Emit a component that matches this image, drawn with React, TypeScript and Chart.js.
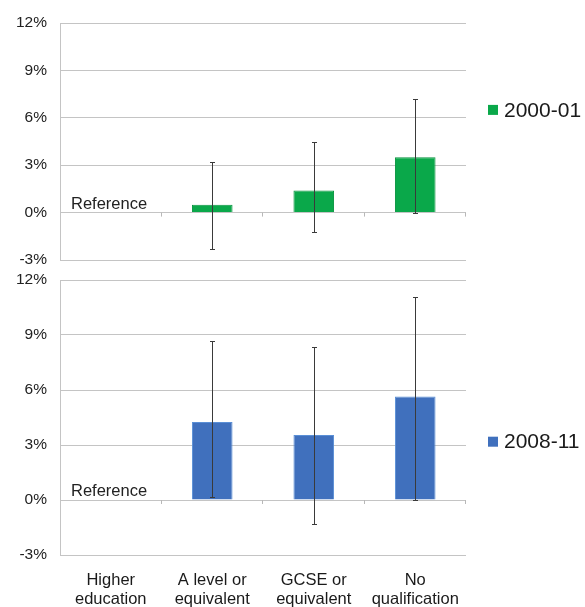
import React, { useEffect, useRef } from "react";
import { Chart, registerables } from "chart.js";

Chart.register(...registerables);

const categories: string[][] = [
  ["Higher", "education"],
  ["A level or", "equivalent"],
  ["GCSE or", "equivalent"],
  ["No", "qualification"],
];

const series2000Label = "2000-01";
const series2000Values = [null, 0.5, 1.4, 3.5];
const series2000Upper = [null, 3.2, 4.45, 7.2];
const series2000Lower = [null, -2.3, -1.25, 0.0];

const series2008Label = "2008-11";
const series2008Values = [null, 4.25, 3.55, 5.65];
const series2008Upper = [null, 8.65, 8.35, 11.1];
const series2008Lower = [null, 0.18, -1.3, 0.0];

const yTicks = [-3, 0, 3, 6, 9, 12];
const referenceLabel = "Reference";

const FONT = "'Liberation Sans', Arial, sans-serif";

const GREEN = "#0aa84a";
const GREEN_BORDER = "#08943f";
const BLUE = "#4070bd";
const BLUE_BORDER = "#5a8fd6";

function makeOverlayPlugin(
  upper: (number | null)[],
  lower: (number | null)[],
  legendLabel: string,
  legendColor: string,
  legendYValue: number
) {
  return {
    id: "overlay",
    afterDatasetsDraw(chart: any) {
      const ctx = chart.ctx;
      const x = chart.scales.x;
      const y = chart.scales.y;
      const area = chart.chartArea;
      ctx.save();
      // zero-line category tick marks
      const y0 = y.getPixelForValue(0);
      ctx.strokeStyle = "#b8b8b8";
      ctx.lineWidth = 1;
      const n = categories.length;
      for (let i = 1; i <= n; i++) {
        const px = Math.round(area.left + ((area.right - area.left) * i) / n) - 0.5;
        ctx.beginPath();
        ctx.moveTo(px, y0);
        ctx.lineTo(px, y0 + 4);
        ctx.stroke();
      }
      // error bars
      ctx.strokeStyle = "#3a3a3a";
      ctx.lineWidth = 1;
      for (let i = 0; i < upper.length; i++) {
        const u = upper[i];
        const l = lower[i];
        if (u == null || l == null) continue;
        const cx = Math.round(x.getPixelForValue(i)) + 0.5;
        const yu = Math.round(y.getPixelForValue(u)) + 0.5;
        const yl = Math.round(y.getPixelForValue(l)) + 0.5;
        ctx.beginPath();
        ctx.moveTo(cx, yu);
        ctx.lineTo(cx, yl);
        ctx.moveTo(cx - 2.5, yu);
        ctx.lineTo(cx + 2.5, yu);
        ctx.moveTo(cx - 2.5, yl);
        ctx.lineTo(cx + 2.5, yl);
        ctx.stroke();
      }
      // reference label
      ctx.fillStyle = "#222";
      ctx.font = `16.5px ${FONT}`;
      ctx.textAlign = "left";
      ctx.textBaseline = "alphabetic";
      ctx.fillText(referenceLabel, area.left + 11, y0 - 4);
      // legend
      const ly = y.getPixelForValue(legendYValue);
      ctx.fillStyle = legendColor;
      ctx.fillRect(area.right + 22, ly - 5, 10, 10);
      ctx.fillStyle = "#1a1a1a";
      ctx.font = `21px ${FONT}`;
      ctx.textBaseline = "middle";
      ctx.fillText(legendLabel, area.right + 38, ly + 1);
      ctx.restore();
    },
  };
}

function buildConfig(
  label: string,
  values: (number | null)[],
  color: string,
  border: string,
  showX: boolean,
  topPad: number,
  xHeight: number,
  plugin: any
): any {
  return {
    type: "bar",
    data: {
      labels: categories,
      datasets: [
        {
          label,
          data: values,
          backgroundColor: color,
          borderColor: border,
          borderWidth: 1,
          barPercentage: 0.4,
          categoryPercentage: 1.0,
        },
      ],
    },
    options: {
      animation: false,
      responsive: false,
      maintainAspectRatio: false,
      devicePixelRatio: 1,
      layout: { padding: { top: topPad, right: 119, left: 0, bottom: 0 } },
      plugins: {
        legend: { display: false },
        tooltip: { enabled: false },
      },
      scales: {
        x: {
          grid: { display: false, drawTicks: false },
          border: { display: false },
          ticks: {
            display: showX,
            color: "#1a1a1a",
            font: { family: FONT, size: 16.5, lineHeight: 1.21 },
            padding: 15,
            maxRotation: 0,
            autoSkip: false,
          },
          afterFit(scale: any) {
            scale.height = xHeight;
          },
        },
        y: {
          min: -3,
          max: 12,
          afterBuildTicks(scale: any) {
            scale.ticks = yTicks.map((v) => ({ value: v }));
          },
          grid: {
            color: "#c4c4c4",
            lineWidth: 1,
            drawTicks: true,
            tickLength: 13,
            tickColor: "rgba(0,0,0,0)",
          },
          border: { display: true, color: "#c4c4c4" },
          ticks: {
            color: "#222",
            font: { family: FONT, size: 15.5 },
            padding: 0,
            callback: (v: any) => `${v}%`,
          },
          afterFit(scale: any) {
            scale.width = 60;
          },
        },
      },
    },
    plugins: [plugin],
  };
}

export default function App() {
  const topRef = useRef<HTMLCanvasElement | null>(null);
  const botRef = useRef<HTMLCanvasElement | null>(null);

  useEffect(() => {
    const c1 = new Chart(
      topRef.current as HTMLCanvasElement,
      buildConfig(
        series2000Label,
        series2000Values,
        GREEN,
        GREEN_BORDER,
        false,
        23,
        10,
        makeOverlayPlugin(series2000Upper, series2000Lower, series2000Label, GREEN, 6.5)
      )
    );
    const c2 = new Chart(
      botRef.current as HTMLCanvasElement,
      buildConfig(
        series2008Label,
        series2008Values,
        BLUE,
        BLUE_BORDER,
        true,
        10,
        52,
        makeOverlayPlugin(series2008Upper, series2008Lower, series2008Label, BLUE, 3.18)
      )
    );
    return () => {
      c1.destroy();
      c2.destroy();
    };
  }, []);

  return (
    <div
      style={{
        position: "absolute",
        left: 0,
        top: 0,
        width: 585,
        height: 607,
        background: "#fff",
      }}
    >
      <canvas
        ref={topRef}
        width={585}
        height={270}
        style={{ position: "absolute", left: 0, top: 0, width: 585, height: 270 }}
      />
      <canvas
        ref={botRef}
        width={585}
        height={337}
        style={{ position: "absolute", left: 0, top: 270, width: 585, height: 337 }}
      />
    </div>
  );
}
